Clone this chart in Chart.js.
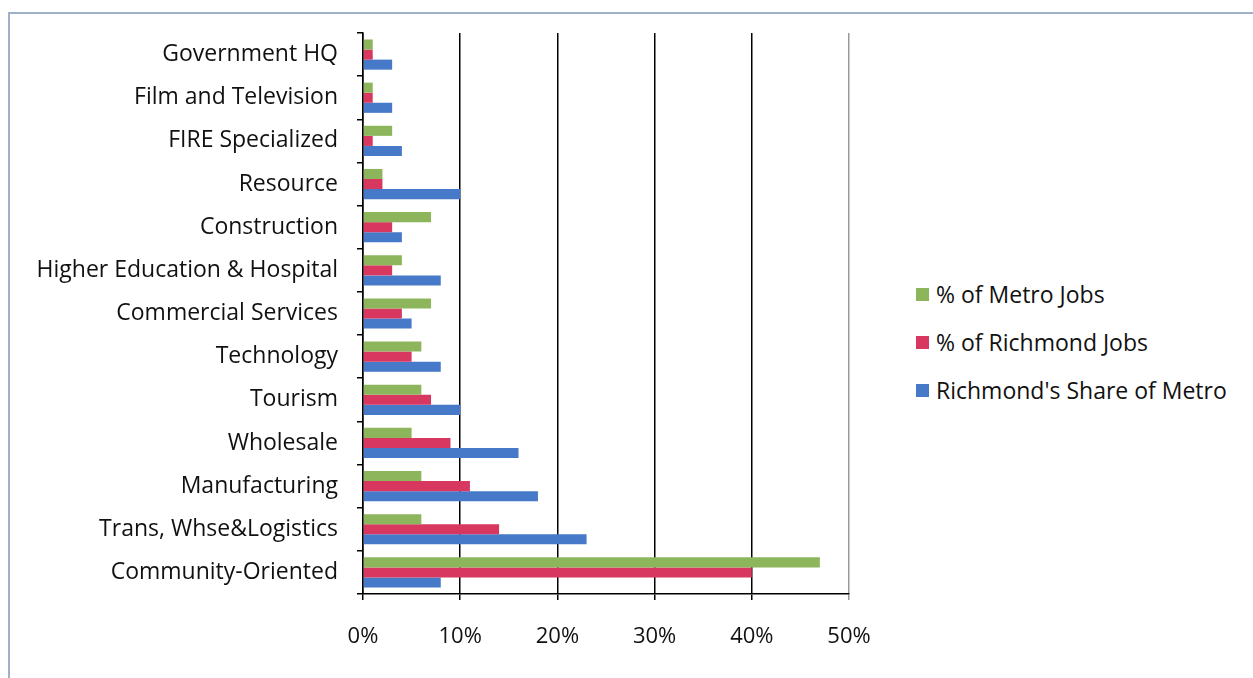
<!DOCTYPE html>
<html>
<head>
<meta charset="utf-8">
<script src="https://cdn.jsdelivr.net/npm/chart.js@4"></script>
<style>
    html, body { margin: 0; padding: 0; background: #fff; }
    body { width: 1253px; height: 678px; position: relative; overflow: hidden; font-family: "Open Sans", "Noto Sans", sans-serif; }
    #frame { position: absolute; left: 8px; top: 12px; right: -2px; bottom: -2px; border-left: 2px solid #9fb0c8; border-top: 2px solid #9fb0c8; }
    #wrap { position: absolute; left: 0; top: 0; width: 900px; height: 678px; }
    #legend { position: absolute; left: 916px; top: 270px; }
    .leg-item { display: flex; align-items: center; height: 48px; font-size: 23px; color: #111; }
    .leg-box { width: 13px; height: 13px; margin-right: 7px; }
</style>
</head>
<body>
<div id="frame"></div>
<div id="wrap"><canvas id="chart" width="900" height="678"></canvas></div>
<div id="legend"></div>
<script>
document.addEventListener("DOMContentLoaded", () => {
    // --- DATA ---
    const categorias = [
        "Government HQ",
        "Film and Television",
        "FIRE Specialized",
        "Resource",
        "Construction",
        "Higher Education & Hospital",
        "Commercial Services",
        "Technology",
        "Tourism",
        "Wholesale",
        "Manufacturing",
        "Trans, Whse&Logistics",
        "Community-Oriented"
    ];
    const metroJobs    = [1, 1, 3, 2, 7, 4, 7, 6, 6, 5, 6, 6, 47];
    const richmondJobs = [1, 1, 1, 2, 3, 3, 4, 5, 7, 9, 11, 14, 40];
    const shareMetro   = [3, 3, 4, 10, 4, 8, 5, 8, 10, 16, 18, 23, 8];
    const nomesSeries  = ["% of Metro Jobs", "% of Richmond Jobs", "Richmond's Share of Metro"];
    const coresSeries  = ["#8db55c", "#d8375f", "#4679c8"];
    const xTicks       = [0, 10, 20, 30, 40, 50];

    const familia = "'Open Sans', 'Noto Sans', sans-serif";
    const valores = [metroJobs, richmondJobs, shareMetro];

    const PLOT_LEFT = 363, PLOT_RIGHT = 849;

    new Chart(document.getElementById("chart"), {
        type: "bar",
        data: {
            labels: categorias,
            datasets: nomesSeries.map((nome, i) => ({
                label: nome,
                data: valores[i],
                backgroundColor: coresSeries[i],
                barPercentage: 1.0,
                categoryPercentage: 0.7
            }))
        },
        options: {
            indexAxis: "y",
            responsive: false,
            animation: false,
            layout: { padding: { top: 33, right: 900 - PLOT_RIGHT, left: 0, bottom: 0 } },
            plugins: { legend: { display: false }, tooltip: { enabled: false } },
            scales: {
                x: {
                    min: 0,
                    max: 50,
                    afterBuildTicks: (scale) => { scale.ticks = xTicks.map(v => ({ value: v })); },
                    afterFit: (scale) => { scale.height = 84; },
                    border: { color: "#000", width: 1.5 },
                    grid: {
                        color: (ctx) => ctx.tick && ctx.tick.value === 50 ? "#999" : "#000",
                        lineWidth: 1.5,
                        tickLength: 6,
                        drawTicks: true
                    },
                    ticks: {
                        color: "#111",
                        font: { family: familia, size: 22 },
                        padding: 24,
                        callback: (v) => v + "%"
                    }
                },
                y: {
                    afterFit: (scale) => { scale.width = PLOT_LEFT; },
                    border: { color: "#000", width: 1.5 },
                    grid: {
                        drawOnChartArea: false,
                        drawTicks: true,
                        tickLength: 6,
                        color: "#000",
                        lineWidth: 1.5
                    },
                    ticks: { color: "#111", font: { family: familia, size: 23 }, padding: 19 }
                }
            }
        }
    });

    // --- LEGENDA ---
    const legendEl = document.getElementById("legend");
    nomesSeries.forEach((nome, i) => {
        const item = document.createElement("div");
        item.className = "leg-item";
        item.innerHTML = `<span class="leg-box" style="background:${coresSeries[i]}"></span><span>${nome}</span>`;
        legendEl.appendChild(item);
    });
});
</script>
</body>
</html>
